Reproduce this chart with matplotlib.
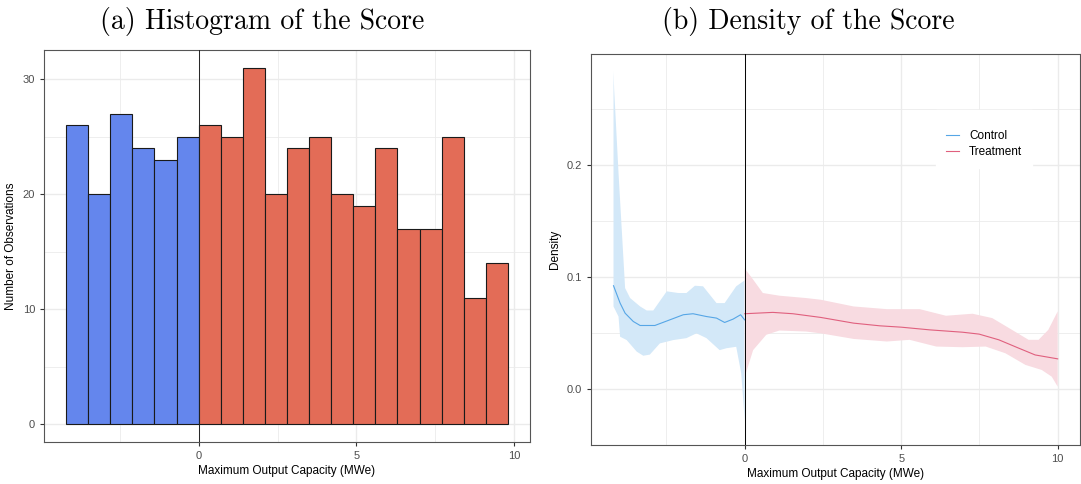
import numpy as np
import matplotlib
matplotlib.use("Agg")
import matplotlib.pyplot as plt
from matplotlib.ticker import MultipleLocator

plt.rcParams['font.family'] = ['Liberation Sans', 'DejaVu Sans']

# histogram counts, bin width 0.7, cutoff at 0
bin_width = 0.7
first_edge = -4.2
control_counts = [26, 20, 27, 24, 23, 25]
treatment_counts = [26, 25, 31, 20, 24, 25, 20, 19, 24, 17, 17, 25, 11, 14]

# local density estimates with confidence bands
ctrl_x = [-4.19, -3.98, -3.82, -3.56, -3.34, -2.87, -2.49, -1.96, -1.65, -1.22, -0.90, -0.64, -0.37, -0.13, 0.0]
ctrl_y = [0.0925, 0.077, 0.068, 0.0606, 0.057, 0.057, 0.061, 0.0666, 0.0675, 0.065, 0.0636, 0.0597, 0.0627, 0.0666, 0.062]
ctrl_up_x = [-4.19, -4.17, -4.03, -3.82, -3.66, -3.34, -3.13, -2.92, -2.49, -2.12, -1.86, -1.59, -1.33, -0.90, -0.64, -0.27, 0.0]
ctrl_up_y = [0.284, 0.268, 0.193, 0.0904, 0.0815, 0.074, 0.0704, 0.0704, 0.0875, 0.086, 0.086, 0.0925, 0.092, 0.077, 0.077, 0.092, 0.0973]
ctrl_lo_x = [-4.19, -4.03, -3.98, -3.77, -3.45, -3.24, -3.03, -2.71, -2.28, -1.86, -1.54, -1.22, -0.80, -0.58, -0.27, -0.11, -0.03, 0.0]
ctrl_lo_y = [0.074, 0.065, 0.047, 0.044, 0.0337, 0.030, 0.031, 0.041, 0.044, 0.0457, 0.050, 0.0457, 0.035, 0.0367, 0.038, 0.0143, -0.0155, -0.0275]

treat_x = [0.0, 0.9, 1.54, 2.43, 3.48, 4.32, 5.0, 5.91, 6.96, 7.49, 8.12, 8.76, 9.28, 10.0]
treat_y = [0.0675, 0.0687, 0.0675, 0.0642, 0.0591, 0.0567, 0.0555, 0.0531, 0.051, 0.0493, 0.0442, 0.0367, 0.0307, 0.0272]
treat_up_x = [0.0, 0.27, 0.58, 1.11, 1.96, 2.43, 3.48, 4.54, 5.59, 6.43, 7.28, 7.91, 8.54, 9.07, 9.39, 9.70, 10.0]
treat_up_y = [0.108, 0.098, 0.086, 0.0836, 0.0815, 0.080, 0.074, 0.0716, 0.0716, 0.0657, 0.0675, 0.0636, 0.0531, 0.0442, 0.0442, 0.0531, 0.0696]
treat_lo_x = [0.0, 0.27, 0.69, 1.11, 1.96, 2.43, 3.48, 4.54, 5.27, 6.12, 6.96, 7.70, 8.33, 8.97, 9.49, 9.81, 10.0]
treat_lo_y = [0.011, 0.035, 0.0487, 0.0525, 0.0516, 0.050, 0.045, 0.0427, 0.0442, 0.0382, 0.0376, 0.0382, 0.0322, 0.0218, 0.0173, 0.0113, 0.0024]

blue_bar = '#6486ED'
red_bar = '#E36C57'
ctrl_line = '#56A6E6'
ctrl_fill = '#D3E8F8'
treat_line = '#E0607E'
treat_fill = '#F8DBE1'
grid_col = '#EBEBEB'
tick_col = '#4D4D4D'


def bw_theme(ax):
    ax.set_facecolor('white')
    for s in ax.spines.values():
        s.set_color('#555555')
        s.set_linewidth(0.8)
    ax.grid(True, which='major', color=grid_col, linewidth=1.0)
    ax.grid(True, which='minor', color=grid_col, linewidth=0.6)
    ax.set_axisbelow(True)
    ax.tick_params(which='major', length=3, width=0.8, color='#333333',
                   labelcolor=tick_col, labelsize=8)
    ax.tick_params(which='minor', length=0)


fig = plt.figure(figsize=(10.81, 4.84), dpi=100)

# (a) histogram
ax1 = fig.add_axes([0.0407, 0.0868, 0.4496, 0.8099])
bw_theme(ax1)
n_ctrl = len(control_counts)
ctrl_left = first_edge + bin_width * np.arange(n_ctrl)
treat_left = first_edge + bin_width * (n_ctrl + np.arange(len(treatment_counts)))
ax1.bar(ctrl_left, control_counts, width=bin_width, align='edge',
        color=blue_bar, edgecolor='#1a1a1a', linewidth=0.8, zorder=2)
ax1.bar(treat_left, treatment_counts, width=bin_width, align='edge',
        color=red_bar, edgecolor='#1a1a1a', linewidth=0.8, zorder=2)
ax1.axvline(0, color='#222222', linewidth=0.7, zorder=3)
ax1.set_xlim(-4.9, 10.5)
ax1.set_ylim(-1.55, 32.55)
ax1.xaxis.set_major_locator(MultipleLocator(5))
ax1.xaxis.set_minor_locator(MultipleLocator(2.5))
ax1.yaxis.set_major_locator(MultipleLocator(10))
ax1.yaxis.set_minor_locator(MultipleLocator(5))
ax1.set_xlabel('Maximum Output Capacity (MWe)', fontsize=8.5, labelpad=3)
ax1.set_ylabel('Number of Observations', fontsize=8.5, labelpad=4)
fig.text(0.2424, 0.955, '(a) Histogram of the Score', family='cmr10',
         fontsize=20, ha='center', va='center')

# (b) density
ax2 = fig.add_axes([0.5467, 0.0806, 0.4523, 0.8078])
bw_theme(ax2)
ax2.fill(np.r_[ctrl_up_x, ctrl_lo_x[::-1]], np.r_[ctrl_up_y, ctrl_lo_y[::-1]],
         color=ctrl_fill, linewidth=0, zorder=2)
ax2.fill(np.r_[treat_up_x, treat_lo_x[::-1]], np.r_[treat_up_y, treat_lo_y[::-1]],
         color=treat_fill, linewidth=0, zorder=2)
ax2.plot(ctrl_x, ctrl_y, color=ctrl_line, linewidth=0.8, label='Control', zorder=3)
ax2.plot(treat_x, treat_y, color=treat_line, linewidth=0.8, label='Treatment', zorder=3)
ax2.axvline(0, color='black', linewidth=0.7, zorder=4)
ax2.set_xlim(-4.91, 10.71)
ax2.set_ylim(-0.0497, 0.2994)
ax2.xaxis.set_minor_locator(MultipleLocator(2.5))
ax2.yaxis.set_minor_locator(MultipleLocator(0.05))
ax2.set_xticks([0, 5, 10])
ax2.set_yticks([0.0, 0.1, 0.2])
ax2.set_yticklabels(['0.0', '0.1', '0.2'])
ax2.set_xlabel('Maximum Output Capacity (MWe)', fontsize=8.5, labelpad=3)
ax2.set_ylabel('Density', fontsize=8.5, labelpad=4)
leg = ax2.legend(loc='upper left', bbox_to_anchor=(930 / 1081, 1 - 104 / 484),
                 bbox_transform=fig.transFigure, title=' ', title_fontsize=6,
                 frameon=True, fontsize=8.5, handlelength=1.1, handletextpad=0.85,
                 borderpad=0.85, labelspacing=0.3, fancybox=False)
leg.get_frame().set_edgecolor('white')
leg.get_frame().set_facecolor('white')
leg.get_frame().set_alpha(1)
fig.text(0.748, 0.955, '(b) Density of the Score', family='cmr10',
         fontsize=20, ha='center', va='center')

fig.savefig('out.png', dpi=100)
